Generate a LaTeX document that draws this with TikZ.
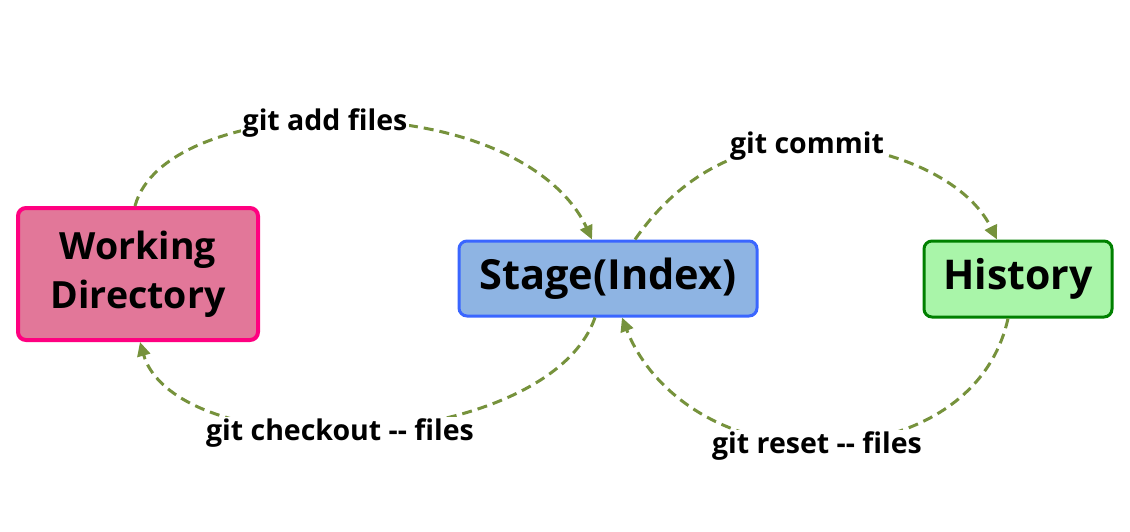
\documentclass[tikz,border=0pt]{standalone}
\usepackage{fontspec}
\setmainfont{Open Sans}
\usetikzlibrary{arrows.meta}
\definecolor{wdfill}{HTML}{E27799}
\definecolor{wdline}{HTML}{FF0080}
\definecolor{stfill}{HTML}{8EB4E3}
\definecolor{stline}{HTML}{3A66FF}
\definecolor{hifill}{HTML}{A9F5A9}
\definecolor{hiline}{HTML}{008000}
\definecolor{arr}{HTML}{76923C}
\tikzset{
  boxnode/.style={rounded corners=8pt, inner sep=0pt, align=center, font=\bfseries},
  lbl/.style={fill=white, inner sep=2pt, font=\fontsize{28.5}{32}\selectfont\bfseries},
  flow/.style={draw=arr, line width=3pt, dash pattern=on 10pt off 6pt,
    -{Triangle[length=14pt,width=13pt]}},
}
\begin{document}
\begin{tikzpicture}[x=1pt,y=-1pt]
\useasboundingbox (0,0) rectangle (1130,531);
\node[boxnode, fill=wdfill, draw=wdline, line width=4pt, minimum width=240pt, minimum height=132pt,
  font=\fontsize{37.5}{49}\selectfont\bfseries] (wd) at (138,274) {Working\\Directory};
\node[boxnode, fill=stfill, draw=stline, line width=3pt, minimum width=298pt, minimum height=75pt,
  font=\fontsize{41.5}{48}\selectfont\bfseries] (st) at (608,278.5) {Stage(Index)};
\node[boxnode, fill=hifill, draw=hiline, line width=3pt, minimum width=188pt, minimum height=76pt,
  font=\fontsize{41}{48}\selectfont\bfseries] (hi) at (1018,279) {History};
% connectors
\draw[flow] ([xshift=-3pt]wd.north) .. controls (150,150) and (240,122) .. (325,120)
  .. controls (470,118) and (560,170) .. ([xshift=-16pt]st.north);
\draw[flow] ([xshift=27pt]st.north) .. controls (680,175) and (740,145) .. (807,144)
  .. controls (880,143) and (965,175) .. ([xshift=-21pt]hi.north);
\draw[flow] ([xshift=-13pt]st.south) .. controls (570,390) and (450,430) .. (340,431)
  .. controls (220,432) and (155,395) .. ([xshift=2pt]wd.south);
\draw[flow] ([xshift=-10pt]hi.south) .. controls (990,400) and (910,444) .. (817,444)
  .. controls (720,444) and (650,390) .. ([xshift=14pt]st.south);
% labels
\node[lbl] (l1) at (325,123) {git add files};
\node[lbl] (l2) at (807,146) {git commit};
\node[lbl] (l3) at (340,433) {git checkout -{}- files};
\node[lbl] (l4) at (817,446) {git reset -{}- files};
\end{tikzpicture}
\end{document}
